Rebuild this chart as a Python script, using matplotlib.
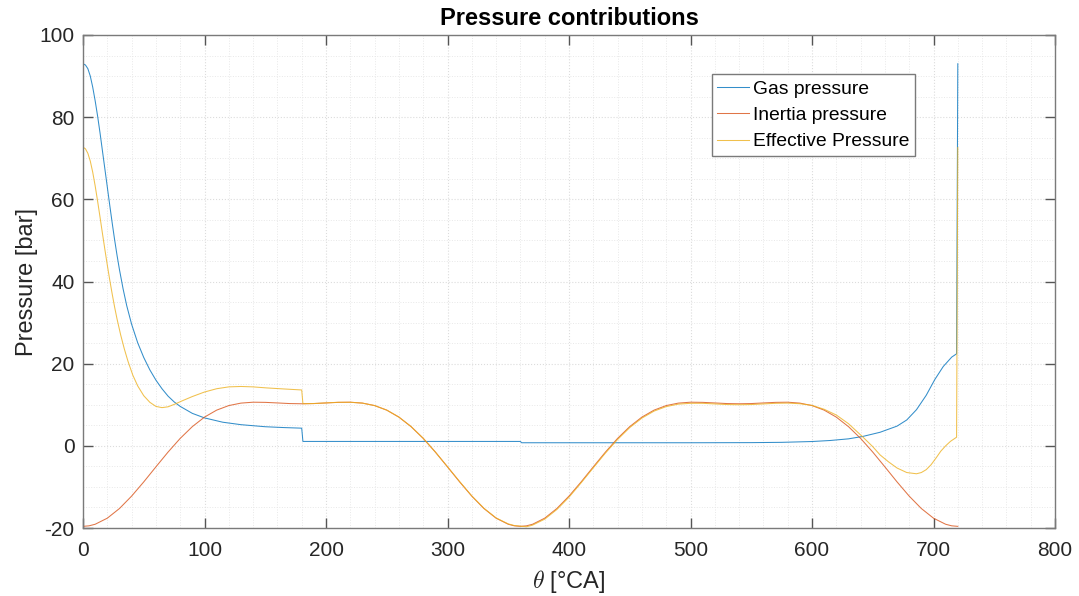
import matplotlib
matplotlib.use("Agg")
import matplotlib.pyplot as plt
from matplotlib.ticker import MultipleLocator

plt.rcParams['font.family'] = ['Liberation Sans', 'DejaVu Sans']
plt.rcParams['mathtext.fontset'] = 'cm'
plt.rcParams['axes.unicode_minus'] = False

# ---- data ----
theta_gas = [0, 2, 4, 6, 8, 10, 12, 14, 16, 18, 20, 22, 24, 26, 28, 30, 33, 36, 40, 45,
             50, 55, 60, 65, 70, 75, 80, 90, 100, 115, 130, 150, 165, 180, 181, 360, 361,
             500, 550, 575, 600, 615, 630, 642, 656, 670, 678, 686, 694, 701, 708, 715,
             719, 720]
gas_pressure = [93.0, 92.7, 91.8, 90.0, 87.3, 84.0, 80.3, 76.2, 71.8, 67.4, 63.0, 58.6,
                54.3, 50.2, 46.4, 42.9, 38.2, 34.1, 29.6, 25.1, 21.5, 18.5, 16.0, 13.9,
                12.1, 10.7, 9.6, 7.9, 6.8, 5.75, 5.15, 4.65, 4.45, 4.3, 1.07, 1.07, 0.75,
                0.75, 0.78, 0.85, 1.05, 1.3, 1.7, 2.3, 3.3, 4.8, 6.3, 8.8, 12.3, 16.1,
                19.3, 21.6, 22.4, 93.0]

theta_inertia = [0, 5, 10, 20, 30, 40, 50, 60, 70, 80, 90, 100, 110, 120, 130, 140, 150,
                 160, 170, 180, 190, 200, 210, 220, 230, 240, 250, 260, 270, 280, 290,
                 300, 310, 320, 330, 340, 350, 355, 360, 365, 370, 380, 390, 400, 410,
                 420, 430, 440, 450, 460, 470, 480, 490, 500, 510, 520, 530, 540, 550,
                 560, 570, 580, 590, 600, 610, 620, 630, 640, 650, 660, 670, 680, 690,
                 700, 710, 715, 720]
inertia_pressure = [-19.60, -19.47, -19.09, -17.61, -15.26, -12.24, -8.78, -5.12, -1.52,
                    1.81, 4.68, 6.99, 8.69, 9.80, 10.40, 10.62, 10.58, 10.44, 10.29,
                    10.24, 10.29, 10.44, 10.58, 10.62, 10.40, 9.80, 8.69, 6.99, 4.68,
                    1.81, -1.52, -5.12, -8.78, -12.24, -15.26, -17.61, -19.09, -19.47,
                    -19.60, -19.47, -19.09, -17.61, -15.26, -12.24, -8.78, -5.12, -1.52,
                    1.81, 4.68, 6.99, 8.69, 9.80, 10.40, 10.62, 10.58, 10.44, 10.29,
                    10.24, 10.29, 10.44, 10.58, 10.62, 10.40, 9.80, 8.69, 6.99, 4.68,
                    1.81, -1.52, -5.12, -8.78, -12.24, -15.26, -17.61, -19.09, -19.47,
                    -19.60]

theta_eff = [0, 2, 4, 6, 8, 10, 12, 14, 16, 18, 20, 22, 24, 26, 28, 31, 34, 37, 41, 45,
             50, 55, 60, 65, 70, 76, 82, 90, 100, 110, 120, 130, 140, 151, 165, 180, 181,
             190, 200, 210, 220, 230, 240, 250, 260, 270, 280, 290, 300, 310, 320, 330,
             340, 350, 355, 360, 365, 370, 380, 390, 400, 410, 420, 430, 440, 450, 460,
             470, 480, 490, 500, 510, 520, 530, 540, 550, 560, 570, 580, 590, 600, 610,
             620, 630, 642, 650, 656, 663, 670, 678, 686, 690, 694, 698, 702, 706, 710,
             714, 717, 719, 720]
effective_pressure = [72.7, 72.3, 71.2, 69.3, 66.6, 63.3, 59.6, 55.7, 51.7, 47.8, 44.0,
                      40.4, 37.0, 33.8, 30.9, 27.0, 23.6, 20.6, 17.2, 14.6, 12.2, 10.6,
                      9.6, 9.3, 9.5, 10.2, 11.0, 12.0, 13.1, 13.9, 14.35, 14.45, 14.35,
                      14.1, 13.85, 13.6, 10.25, 10.3, 10.45, 10.6, 10.6, 10.4, 9.8, 8.7,
                      7.0, 4.7, 1.85, -1.5, -5.1, -8.7, -12.2, -15.2, -17.55, -19.0,
                      -19.4, -19.55, -19.7, -19.3, -17.85, -15.5, -12.5, -9.0, -5.35,
                      -1.75, 1.55, 4.45, 6.75, 8.45, 9.55, 10.15, 10.35, 10.35, 10.2,
                      10.05, 10.0, 10.05, 10.2, 10.35, 10.4, 10.25, 9.85, 8.9, 7.5, 5.4,
                      2.1, -0.2, -2.2, -3.9, -5.4, -6.5, -6.8, -6.5, -5.8, -4.6, -3.0,
                      -1.3, 0.0, 1.1, 1.7, 2.1, 72.6]

labels = ['Gas pressure', 'Inertia pressure', 'Effective Pressure']
colors = ['#0072BD', '#D95319', '#EDB120']

# ---- figure ----
fig = plt.figure(figsize=(10.79, 5.96), dpi=100)
ax = fig.add_axes([83 / 1079, 1 - 528 / 596, (1055 - 83) / 1079, (528 - 35) / 596])

ax.plot(theta_gas, gas_pressure, color=colors[0], lw=0.75, alpha=0.8, label=labels[0])
ax.plot(theta_inertia, inertia_pressure, color=colors[1], lw=0.75, alpha=0.8, label=labels[1])
ax.plot(theta_eff, effective_pressure, color=colors[2], lw=0.75, alpha=0.8, label=labels[2])

ax.set_xlim(0, 800)
ax.set_ylim(-20, 100)
ax.xaxis.set_major_locator(MultipleLocator(100))
ax.xaxis.set_minor_locator(MultipleLocator(20))
ax.yaxis.set_major_locator(MultipleLocator(20))
ax.yaxis.set_minor_locator(MultipleLocator(5))

ax.grid(which='major', color='#dcdcdc', linestyle=':', linewidth=0.8)
ax.grid(which='minor', color='#e8e8e8', linestyle=':', linewidth=0.7)
ax.set_axisbelow(True)

for s in ax.spines.values():
    s.set_color('#7a7a7a')
    s.set_linewidth(1.0)

ax.tick_params(which='major', direction='in', length=7, width=1.0, color='#555555',
               top=True, right=True, labelsize=15, labelcolor='#262626')
ax.tick_params(axis='x', which='major', pad=9)
ax.tick_params(axis='y', which='major', pad=6)
ax.tick_params(which='minor', length=0, top=True, right=True)

ax.set_xlabel(r'$\theta$ [°CA]', fontsize=17, color='#262626', labelpad=6)
ax.set_ylabel('Pressure [bar]', fontsize=17, color='#262626', labelpad=1)
ax.set_title('Pressure contributions', fontsize=17, fontweight='bold', color='black', pad=7)

leg = ax.legend(loc='upper left', bbox_to_anchor=(0.647, 0.920), fontsize=13.9,
                frameon=True, fancybox=False, shadow=False, framealpha=1,
                edgecolor='#7a7a7a', borderpad=0.29, borderaxespad=0,
                handlelength=1.65, handletextpad=0.2, labelspacing=0.46)
leg.get_frame().set_linewidth(1.0)

fig.savefig('out.png', dpi=100)
